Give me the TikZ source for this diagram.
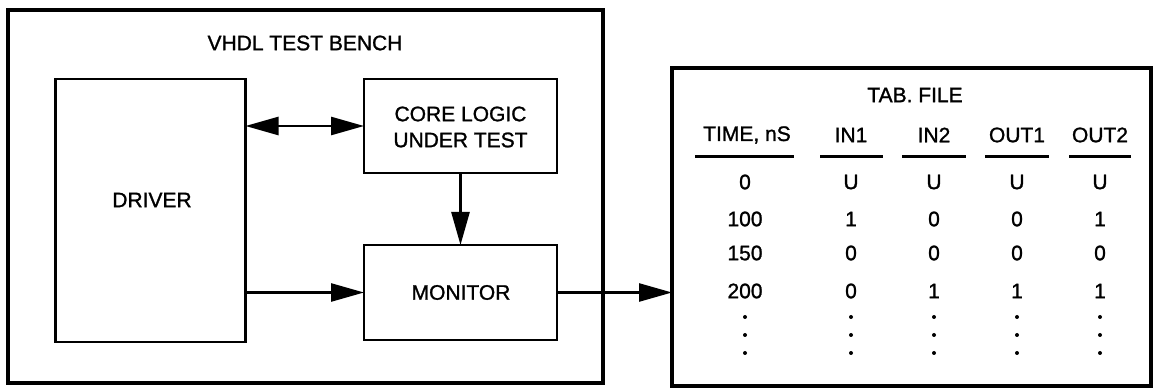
\documentclass[tikz,border=0pt]{standalone}
\usepackage{fontspec}
\setmainfont{Liberation Sans}[FakeBold=1.2]
\usetikzlibrary{arrows.meta}
\begin{document}
\begin{tikzpicture}[x=0.5pt,y=-0.5pt,
  box/.style={draw,line width=1.3pt,inner sep=0pt,outer sep=0pt},
  lbl/.style={font=\fontsize{10.5}{13}\selectfont,inner sep=0pt,align=center},
  con/.style={line width=1.3pt,-{Triangle[length=16.5pt,width=9pt]}},
  uline/.style={line width=1.5pt},
  dot/.style={circle,fill,inner sep=0pt,minimum size=2pt}
 ]
\useasboundingbox (0,0) rectangle (1156,389);
% outer boxes
\node[box,line width=2.2pt,minimum width=297.5pt,minimum height=186.5pt] (bench) at (305.5,196.5) {};
\node[box,line width=1.6pt,minimum width=239.5pt,minimum height=159pt] (tab) at (911.5,227) {};
% inner boxes
\node[box,minimum width=95pt,minimum height=131.5pt] (drv) at (150.5,210.5) {};
\node[box,minimum width=96.5pt,minimum height=47pt] (core) at (460.5,126) {};
\node[box,minimum width=96.5pt,minimum height=47.5pt] (mon) at (460.5,292.5) {};
% texts
\node[lbl] (title) at (305,43) {VHDL TEST BENCH};
\node[lbl] (drvtxt) at (152,200) {DRIVER};
\node[lbl] (coretxt) at (460.5,127) {CORE LOGIC\\UNDER TEST};
\node[lbl] (montxt) at (461,292.5) {MONITOR};
% connectors
\draw[line width=1.3pt,{Triangle[length=16.5pt,width=9pt]}-{Triangle[length=16.5pt,width=9pt]}] (core.west |- 0,126) -- (drv.east |- 0,126);
\draw[con] (core.south) -- (mon.north);
\draw[con] (drv.east |- mon.west) -- (mon.west);
\draw[con] (mon.east) -- (mon.east -| tab.west);
% tab file
\node[lbl] (tabtitle) at (915,95) {TAB. FILE};
\node[lbl] (h1) at (747,135) {TIME, nS};
\node[lbl] (h2) at (851,135) {IN1};
\node[lbl] (h3) at (934,135) {IN2};
\node[lbl] (h4) at (1017,135) {OUT1};
\node[lbl] (h5) at (1100,135) {OUT2};
\draw[uline] (695,157) -- (794,157);
\draw[uline] (820,157) -- (883,157);
\draw[uline] (902,157) -- (966,157);
\draw[uline] (985,157) -- (1049,157);
\draw[uline] (1069,157) -- (1131,157);
\foreach \r/\y/\a/\b/\c/\d/\e in {r0/182/0/U/U/U/U, r1/219/100/1/0/0/1, r2/253/150/0/0/0/0, r3/291/200/0/1/1/1} {
  \node[lbl] (\r-a) at (745,\y) {\a};
  \node[lbl] (\r-b) at (851,\y) {\b};
  \node[lbl] (\r-c) at (934,\y) {\c};
  \node[lbl] (\r-d) at (1017,\y) {\d};
  \node[lbl] (\r-e) at (1100,\y) {\e};
}
\foreach \x [count=\i] in {745,851,934,1017,1100} {
  \foreach \y [count=\j] in {317,335,353} {
    \node[dot] (d\i-\j) at (\x,\y) {};
  }
}
\end{tikzpicture}
\end{document}
